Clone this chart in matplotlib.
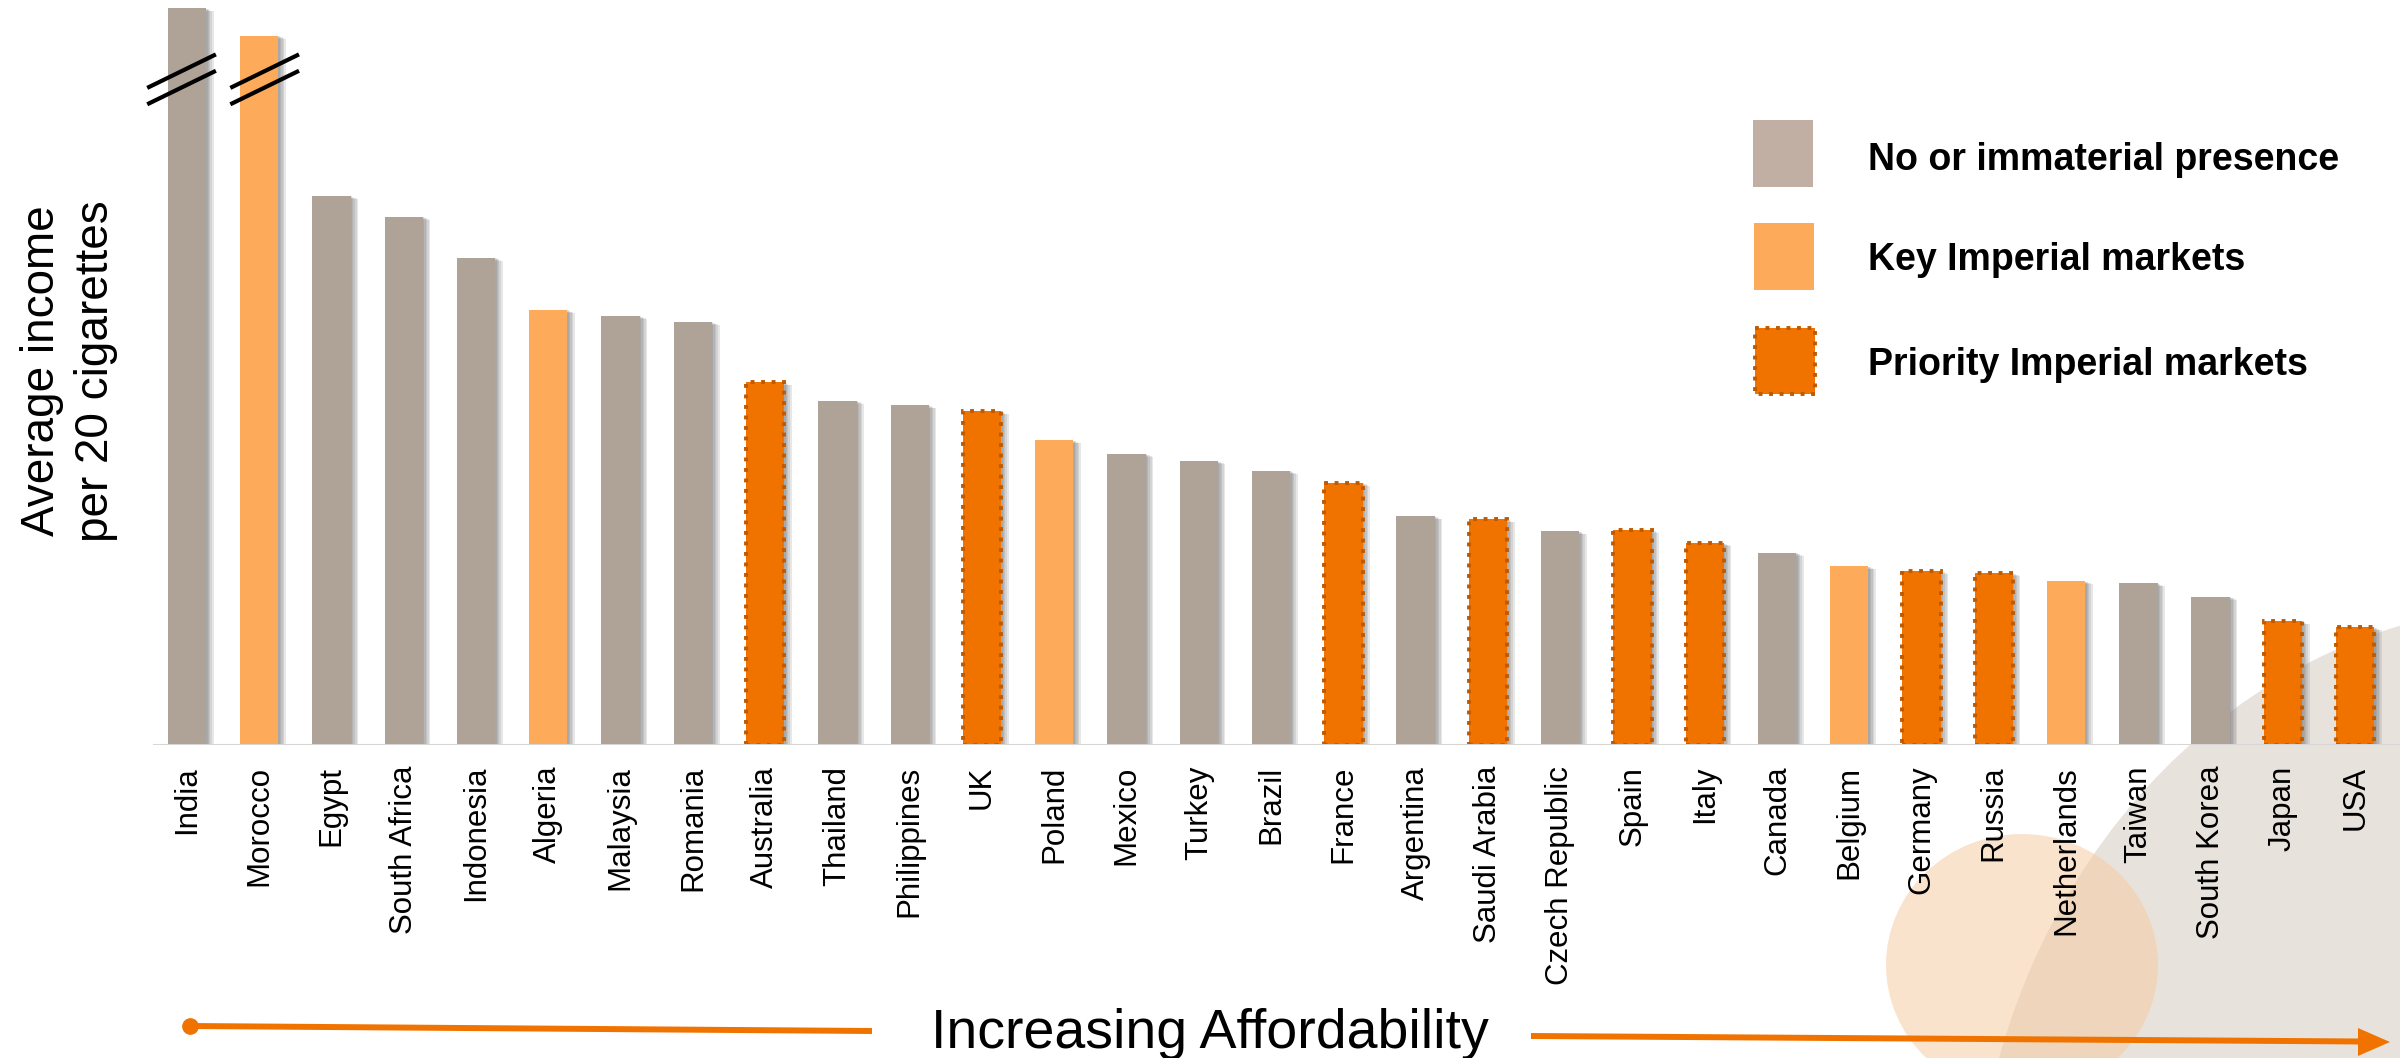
#!/usr/bin/env python3
"""Affordability bar chart: average income per 20 cigarettes by market."""

import matplotlib.pyplot as plt
from matplotlib import patheffects as pe
from matplotlib.patches import Ellipse, Polygon, Rectangle

plt.rcParams["font.family"] = ["Liberation Sans", "DejaVu Sans"]

COUNTRIES = [
    "India", "Morocco", "Egypt", "South Africa", "Indonesia", "Algeria",
    "Malaysia", "Romania", "Australia", "Thailand", "Philippines", "UK",
    "Poland", "Mexico", "Turkey", "Brazil", "France", "Argentina",
    "Saudi Arabia", "Czech Republic", "Spain", "Italy", "Canada", "Belgium",
    "Germany", "Russia", "Netherlands", "Taiwan", "South Korea", "Japan", "USA",
]
# relative income per pack (arbitrary index, India/Morocco truncated by the axis break)
VALUES = [
    98.9, 95.2, 73.7, 70.9, 65.4, 58.4,
    57.6, 56.8, 48.7, 46.2, 45.6, 44.8,
    40.9, 39.1, 38.1, 36.8, 35.2, 30.7,
    30.3, 28.7, 28.9, 27.1, 25.8, 24.0,
    23.4, 23.1, 22.0, 21.7, 19.9, 16.6, 15.8,
]
# 0 = no or immaterial presence, 1 = key market, 2 = priority market
GROUPS = [
    0, 1, 0, 0, 0, 1,
    0, 0, 2, 0, 0, 2,
    1, 0, 0, 0, 2, 0,
    2, 0, 2, 2, 0, 1,
    2, 2, 1, 0, 0, 2, 2,
]
BROKEN = ["India", "Morocco"]
LEGEND_LABELS = ["No or immaterial presence", "Key Imperial markets", "Priority Imperial markets"]

GREY = "#aea396"
LIGHT_ORANGE = "#fdaa5b"
ORANGE = "#f07300"
EDGE = "#c05a00"
DOTTED = (0, (1, 1.7))

W, H = 2400, 1058


def shadow_effects():
    effects = [
        pe.SimplePatchShadow(offset=(o, -o * 0.4), shadow_rgbFace="#6e6e6e", alpha=0.16)
        for o in (1.0, 2.0, 3.0, 4.2, 5.4)
    ]
    return effects + [pe.Normal()]


def draw_bars(ax):
    fills = {0: GREY, 1: LIGHT_ORANGE, 2: ORANGE}
    for group, fill in fills.items():
        xs = [i for i, g in enumerate(GROUPS) if g == group]
        ys = [VALUES[i] for i in xs]
        if group == 2:
            bars = ax.bar(xs, ys, width=0.53, color=fill, edgecolor=EDGE,
                          linewidth=2.8, linestyle=DOTTED, zorder=3)
        else:
            bars = ax.bar(xs, ys, width=0.53, color=fill, linewidth=0, zorder=3)
        for bar in bars:
            bar.set_path_effects(shadow_effects())

    # axis-break marks on the two truncated bars
    shifts = {"India": -0.05, "Morocco": 0.1}
    for name in BROKEN:
        i = COUNTRIES.index(name)
        s = shifts[name]
        for y0 in (88.2, 86.0):
            ax.plot([i - 0.5 + s, i + 0.45 + s], [y0, y0 + 4.5], color="black",
                    lw=3, solid_capstyle="butt", zorder=6, clip_on=False)


def main():
    fig = plt.figure(figsize=(W / 100, H / 100), dpi=100)

    bg = fig.add_axes([0, 0, 1, 1], zorder=-1)
    bg.set_xlim(0, W)
    bg.set_ylim(H, 0)
    bg.axis("off")
    bg.add_patch(Ellipse((2550, 1250), 1154, 1293, color="#e8e2dd", lw=0, zorder=0))
    bg.add_patch(Ellipse((2022, 965), 272, 262, color="#f5c99b", alpha=0.5, lw=0, zorder=1))

    ax = fig.add_axes([153 / W, (H - 745) / H, 1 - 153 / W, 745 / H])
    ax.patch.set_alpha(0)
    draw_bars(ax)
    ax.set_xlim(-0.47, 30.62)
    ax.set_ylim(0, 100)
    ax.axhline(0, color="#d6d6d6", lw=2.2, zorder=5)
    ax.set_xticks(range(len(COUNTRIES)))
    ax.set_xticklabels(COUNTRIES, rotation=90, fontsize=22.5)
    ax.tick_params(axis="x", length=0, pad=15)
    ax.set_yticks([])
    for spine in ax.spines.values():
        spine.set_visible(False)

    fig.text(0.0288, 1 - 371 / H, "Average income\nper 20 cigarettes", rotation=90,
             ha="center", va="center", fontsize=33, linespacing=1.3, multialignment="center")

    # legend
    leg = fig.add_axes([0, 0, 1, 1], zorder=5)
    leg.set_xlim(0, W)
    leg.set_ylim(H, 0)
    leg.axis("off")
    leg.add_patch(Rectangle((1753, 120), 60, 67, color="#c1afa3", lw=0))
    leg.add_patch(Rectangle((1754, 223), 60, 67, color=LIGHT_ORANGE, lw=0))
    leg.add_patch(Rectangle((1755, 328), 60, 66, facecolor=ORANGE, edgecolor=EDGE,
                            lw=2.8, linestyle=DOTTED))
    for label, y in zip(LEGEND_LABELS, (170, 270, 375)):
        leg.text(1868, y, label, fontsize=27, fontweight="bold", va="baseline")

    # affordability arrow
    leg.plot([190, 872], [1026, 1031], color=ORANGE, lw=4.3, solid_capstyle="butt")
    leg.plot([190], [1026], "o", color=ORANGE, ms=11)
    leg.plot([1531, 2362], [1036, 1041.5], color=ORANGE, lw=4.3, solid_capstyle="butt")
    leg.add_patch(Polygon([(2358, 1028), (2358, 1056), (2390, 1042)], closed=True,
                          color=ORANGE, lw=0))
    leg.text(1210, 1048, "Increasing Affordability", fontsize=40, ha="center", va="baseline")

    fig.savefig("out.png", dpi=100)
    plt.close(fig)


if __name__ == "__main__":
    main()
